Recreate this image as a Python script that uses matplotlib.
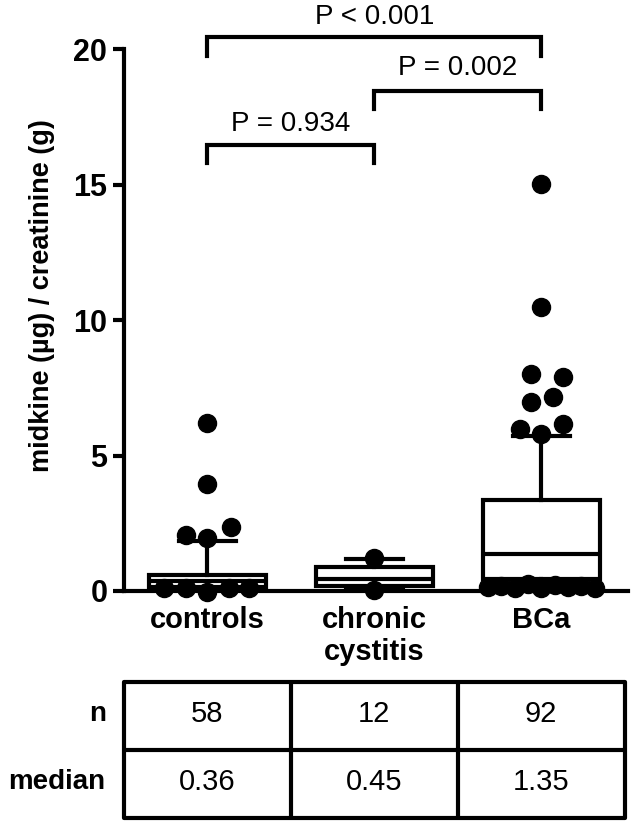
import matplotlib
matplotlib.use('Agg')
import matplotlib.pyplot as plt
from matplotlib.patches import Rectangle

plt.rcParams['font.family'] = ['Liberation Sans', 'DejaVu Sans']

# 数据
groups = ['controls', 'chronic\ncystitis', 'BCa']
n_values = ['58', '12', '92']
median_labels = ['0.36', '0.45', '1.35']
row_labels = ['n', 'median']

q1 = [0.15, 0.17, 0.45]
med = [0.36, 0.45, 1.35]
q3 = [0.60, 0.88, 3.36]
whis_low = [0.05, 0.10, 0.30]
whis_high = [1.85, 1.18, 5.72]

# 离群点：数值 + 相对组中心的水平偏移
controls_pts = [6.2, 3.95, 2.36, 2.07, 1.96, 0.10, 0.10, -0.05, 0.10, 0.10]
controls_off = [0, 0, 0.14, -0.13, 0, -0.26, -0.13, 0, 0.13, 0.25]
cystitis_pts = [1.2, 0.02]
cystitis_off = [0, 0]
bca_pts = [15.02, 10.48, 8.0, 7.9, 7.16, 6.97, 6.16, 5.98, 5.79,
           0.15, 0.20, 0.10, 0.25, 0.12, 0.22, 0.15, 0.20, 0.12]
bca_off = [0, 0, -0.06, 0.13, 0.07, -0.06, 0.13, -0.13, 0,
           -0.32, -0.24, -0.16, -0.08, 0, 0.08, 0.16, 0.24, 0.32]

# 显著性比较
pairs = [(0, 2), (1, 2), (0, 1)]
bracket_y = [20.44, 18.45, 16.46]
p_labels = ['P < 0.001', 'P = 0.002', 'P = 0.934']
p_text_y = [21.18, 19.30, 17.23]

LW = 3.0

fig = plt.figure(figsize=(6.42, 8.38), dpi=100)
ax = fig.add_axes([124 / 642, 247 / 838, 504 / 642, 542 / 838])

stats = []
for i in range(len(groups)):
    stats.append({'q1': q1[i], 'med': med[i], 'q3': q3[i],
                  'whislo': whis_low[i], 'whishi': whis_high[i], 'fliers': []})

ax.bxp(stats, positions=[0, 1, 2], widths=0.70, capwidths=0.34, showfliers=False,
       patch_artist=True,
       boxprops=dict(facecolor='white', edgecolor='black', linewidth=LW),
       medianprops=dict(color='black', linewidth=LW, solid_capstyle='butt'),
       whiskerprops=dict(color='black', linewidth=LW),
       capprops=dict(color='black', linewidth=LW))

for pos, pts, off in [(0, controls_pts, controls_off),
                      (1, cystitis_pts, cystitis_off),
                      (2, bca_pts, bca_off)]:
    xs = [pos + o for o in off]
    ax.plot(xs, pts, 'o', color='black', markersize=13, clip_on=False, zorder=4)

# 括号和 P 值
for (a, b), h, lbl, ty in zip(pairs, bracket_y, p_labels, p_text_y):
    ax.plot([a, a, b, b], [h - 0.68, h, h, h - 0.68], color='black', lw=LW,
            clip_on=False, solid_joinstyle='miter')
    ax.text((a + b) / 2, ty, lbl, ha='center', va='center', fontsize=20)

ax.set_xlim(-0.5, 2.52)
ax.set_ylim(0, 20)
ax.set_yticks([0, 5, 10, 15, 20])
ax.set_xticks([0, 1, 2])
ax.set_xticklabels(groups, fontsize=21, fontweight='bold', linespacing=1.15)
for lbl in ax.get_yticklabels():
    lbl.set_fontweight('bold')
    lbl.set_fontsize(22)
ax.tick_params(axis='y', width=LW, length=8, pad=4)
ax.tick_params(axis='x', length=0, pad=11)
ax.spines['top'].set_visible(False)
ax.spines['right'].set_visible(False)
ax.spines['left'].set_linewidth(LW)
ax.spines['bottom'].set_linewidth(LW)
ax.set_ylabel('midkine (µg) / creatinine (g)', fontsize=19.5, fontweight='bold')
ax.yaxis.set_label_coords(-0.136, 0.546)

# 下方表格
tab = fig.add_axes([124 / 642, 20 / 838, 504 / 642, 136 / 838])
tab.set_xlim(-0.5, 2.52)
tab.set_ylim(2, 0)
tab.axis('off')
tab.add_patch(Rectangle((-0.5, 0), 3, 2, fill=False, edgecolor='black', lw=LW,
                        joinstyle='round', clip_on=False))
tab.hlines([1], -0.5, 2.5, color='black', lw=LW)
tab.vlines([0.5, 1.5], 0, 2, color='black', lw=LW)
for i in range(len(groups)):
    tab.text(i, 0.47, n_values[i], ha='center', va='center', fontsize=21)
    tab.text(i, 1.47, median_labels[i], ha='center', va='center', fontsize=21)
for r, lbl in enumerate(row_labels):
    tab.text(-0.61, r + 0.47, lbl, ha='right', va='center', fontsize=20,
             fontweight='bold')

fig.savefig('out.png', dpi=100)
